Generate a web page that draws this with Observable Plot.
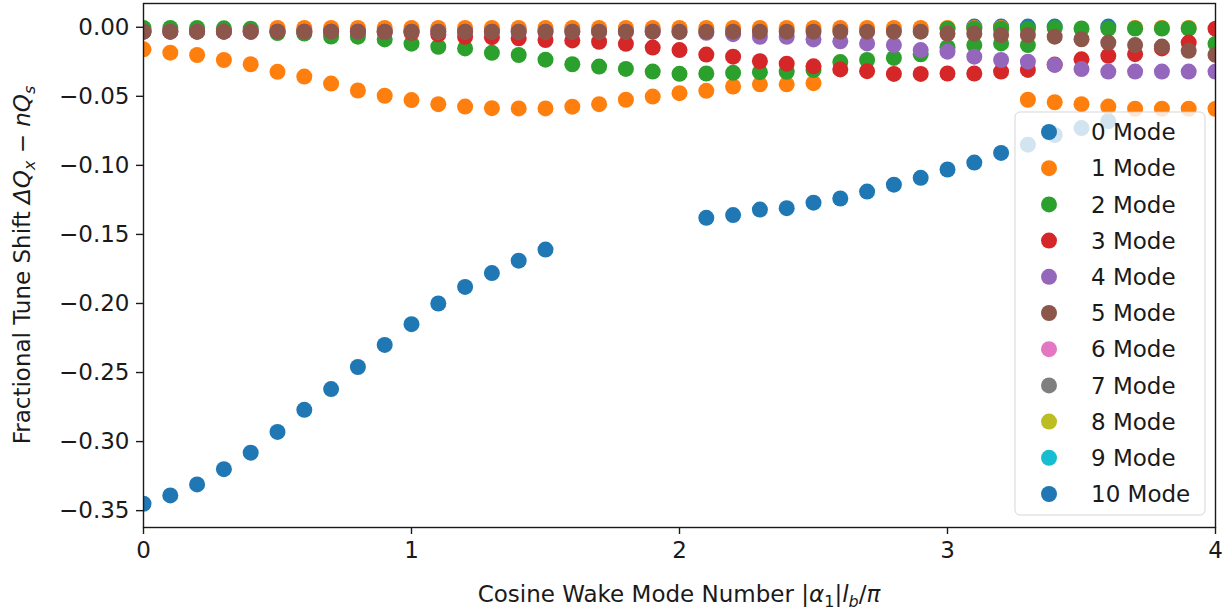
<!DOCTYPE html>
<html>
<head>
<meta charset="utf-8">
<script src="https://cdn.jsdelivr.net/npm/d3@7"></script>
<script src="https://cdn.jsdelivr.net/npm/@observablehq/plot@0.6"></script>
<style>
  html, body { margin: 0; padding: 0; background: #fff; }
  #chart svg { display: block; }
</style>
</head>
<body>
<div id="chart"></div>
<script>
// Cosine wake mode number |α1| l_b / π
const xs = [0.0,0.1,0.2,0.3,0.4,0.5,0.6,0.7,0.8,0.9,1.0,1.1,1.2,1.3,1.4,1.5,1.6,1.7,1.8,1.9,2.0,
            2.1,2.2,2.3,2.4,2.5,2.6,2.7,2.8,2.9,3.0,3.1,3.2,3.3,3.4,3.5,3.6,3.7,3.8,3.9,4.0];

// Fractional tune shift ΔQx − nQs per azimuthal mode; a mode may carry a second
// eigenvalue branch close to zero (null = no eigenvalue at that x)
const mode0 = [-0.345,-0.339,-0.331,-0.320,-0.308,-0.293,-0.277,-0.262,-0.246,-0.230,-0.215,-0.200,-0.188,-0.178,-0.169,-0.161,
               null,null,null,null,null,
               -0.138,-0.136,-0.132,-0.131,-0.127,-0.124,-0.119,-0.114,-0.109,-0.103,-0.098,-0.091,-0.085,-0.078,-0.073,-0.068,
               null,null,null,null];
const mode0Upper = [null,null,null,null,null,null,null,null,null,null,null,null,null,null,null,null,null,null,null,null,null,
                    null,null,null,null,null,null,null,null,null,null,0.0005,0.0005,0.0005,0.0005,null,0.0005,null,null,null,null];
const mode1 = [-0.016,-0.0184,-0.0201,-0.0237,-0.0268,-0.0323,-0.0357,-0.0408,-0.0458,-0.0496,-0.0527,-0.0557,-0.0574,-0.0586,-0.0588,-0.0588,
               -0.0575,-0.0557,-0.0525,-0.0502,-0.0477,-0.046,-0.0429,-0.0413,-0.0413,-0.0405,
               -0.0005,-0.0005,-0.0005,-0.0005,-0.0005,-0.0005,-0.0005,
               -0.0525,-0.0543,-0.0557,-0.0574,-0.059,-0.059,-0.059,-0.059];
const mode1Upper = [null,null,null,null,null,-0.0005,-0.0005,-0.0005,-0.0005,-0.0005,-0.0005,-0.0005,-0.0005,-0.0005,-0.0005,-0.0005,
                    -0.0005,-0.0005,-0.0005,-0.0005,-0.0005,-0.0005,-0.0005,-0.0005,-0.0005,-0.0005,
                    null,null,null,null,null,null,null,
                    null,null,null,null,-0.0005,-0.0005,-0.0005,null];
const mode2 = [-0.0005,-0.0005,-0.0005,-0.0008,-0.001,-0.0042,-0.0045,-0.0067,-0.0068,-0.0088,-0.0119,-0.0141,-0.0153,-0.0185,-0.0201,-0.0235,
               -0.0268,-0.0285,-0.0302,-0.0321,-0.0337,-0.0335,-0.033,-0.0325,-0.0322,-0.031,-0.0252,-0.0237,-0.0222,-0.0196,
               -0.0145,-0.0129,-0.0117,-0.0129,-0.0005,-0.0009,-0.0009,-0.0009,-0.0009,-0.0009,-0.012];
const mode2Upper = [null,null,null,null,null,null,null,null,null,null,null,null,null,null,null,null,null,null,null,null,null,
                    null,null,null,null,null,null,null,null,null,-0.001,-0.001,-0.001,-0.001,null,null,null,null,null,null,null];
const mode3 = [-0.0032,-0.0032,-0.0032,-0.0032,-0.0032,-0.0032,-0.0032,-0.0032,-0.0032,-0.0035,-0.004,-0.0052,-0.0069,-0.0072,-0.008,-0.0093,
               -0.0095,-0.0105,-0.012,-0.0147,-0.0165,-0.0198,-0.0213,-0.0246,-0.0264,-0.0283,-0.0305,-0.0318,-0.0338,-0.0338,
               -0.0335,-0.0335,-0.0321,-0.0309,-0.027,-0.0232,-0.0207,-0.0195,-0.0153,-0.0111,-0.001];
const mode4 = [-0.0032,-0.0032,-0.0032,-0.0032,-0.0032,-0.0032,-0.0032,-0.0032,-0.0032,-0.0032,-0.0032,-0.0032,-0.0032,-0.0032,-0.0032,-0.0032,
               -0.0032,-0.0032,-0.0032,-0.0032,-0.0035,-0.004,-0.005,-0.0069,-0.0069,-0.0088,-0.0102,-0.0117,-0.0129,-0.0165,
               -0.0177,-0.0213,-0.0237,-0.0249,-0.0273,-0.0303,-0.0321,-0.0321,-0.0321,-0.0321,-0.0321];
const mode5 = [-0.0032,-0.0032,-0.0032,-0.0032,-0.0032,-0.0032,-0.0032,-0.0032,-0.0032,-0.0032,-0.0032,-0.0032,-0.0032,-0.0032,-0.0032,-0.0032,
               -0.0032,-0.0032,-0.0032,-0.0032,-0.0032,-0.0032,-0.0032,-0.0032,-0.0032,-0.0032,-0.0032,-0.0032,-0.0032,-0.0032,
               -0.0045,-0.0045,-0.0056,-0.0056,-0.0068,-0.0087,-0.0111,-0.0129,-0.014,-0.0171,-0.020];
const emptyMode = [];

const modeNames = ["0 Mode","1 Mode","2 Mode","3 Mode","4 Mode","5 Mode","6 Mode","7 Mode","8 Mode","9 Mode","10 Mode"];
const modeColors = ["#1f77b4","#ff7f0e","#2ca02c","#d62728","#9467bd","#8c564b","#e377c2","#7f7f7f","#bcbd22","#17becf","#1f77b4"];
const modeSeries = [[mode0, mode0Upper],[mode1, mode1Upper],[mode2, mode2Upper],[mode3],[mode4],[mode5],
                    [emptyMode],[emptyMode],[emptyMode],[emptyMode],[emptyMode]];

const yTicks = [0.00,-0.05,-0.10,-0.15,-0.20,-0.25,-0.30,-0.35];
const xTicks = [0,1,2,3,4];

// Long table, drawn in mode order so later modes sit on top
const rows = [];
modeSeries.forEach((branches, m) => {
  branches.forEach(values => {
    values.forEach((v, i) => {
      if (v !== null && v !== undefined) rows.push({x: xs[i], y: v, mode: m});
    });
  });
});

const FONT = "DejaVu Sans, sans-serif";
const FS = 23;
const INK = "#1a1a1a";

const chart = Plot.plot({
  width: 1232,
  height: 613,
  marginLeft: 143,
  marginRight: 17,
  marginTop: 3,
  marginBottom: 86,
  style: {fontFamily: FONT, fontSize: FS + "px", color: INK, background: "#fff"},
  x: {domain: [0, 4], label: null},
  y: {domain: [-0.3622, 0.0172], label: null},
  marks: [
    Plot.dot(rows, {x: "x", y: "y", r: 8, fill: d => modeColors[d.mode], stroke: "none", clip: true}),
    Plot.frame({stroke: INK, strokeWidth: 1.4}),
    Plot.axisX({ticks: xTicks, tickFormat: d3.format("d"), tickSize: 7, tickPadding: 7, label: null, strokeWidth: 1.4}),
    Plot.axisY({ticks: yTicks, tickFormat: d3.format(".2f"), tickSize: 7, tickPadding: 7, label: null, strokeWidth: 1.4})
  ]
});
document.getElementById("chart").appendChild(chart);

const svg = d3.select(chart);

// Axis titles with math-style italics and subscripts
const ylab = svg.append("text")
  .attr("transform", "translate(30,265) rotate(-90)")
  .attr("text-anchor", "middle")
  .attr("font-family", FONT)
  .attr("font-size", FS)
  .attr("fill", INK);
ylab.append("tspan").text("Fractional Tune Shift ");
ylab.append("tspan").attr("font-style", "italic").text("ΔQ");
ylab.append("tspan").attr("font-style", "italic").attr("font-size", 16).attr("dy", 5).text("x");
ylab.append("tspan").attr("dy", -5).text(" − ");
ylab.append("tspan").attr("font-style", "italic").text("nQ");
ylab.append("tspan").attr("font-style", "italic").attr("font-size", 16).attr("dy", 5).text("s");

const xlab = svg.append("text")
  .attr("x", 679).attr("y", 602)
  .attr("text-anchor", "middle")
  .attr("font-family", FONT)
  .attr("font-size", FS)
  .attr("fill", INK);
xlab.append("tspan").text("Cosine Wake Mode Number |");
xlab.append("tspan").attr("font-style", "italic").text("α");
xlab.append("tspan").attr("font-size", 16).attr("dy", 5).text("1");
xlab.append("tspan").attr("dy", -5).text("|");
xlab.append("tspan").attr("font-style", "italic").text("l");
xlab.append("tspan").attr("font-style", "italic").attr("font-size", 16).attr("dy", 5).text("b");
xlab.append("tspan").attr("dy", -5).text("/");
xlab.append("tspan").attr("font-style", "italic").text("π");

// Legend box in the lower right of the axes
const legend = svg.append("g").attr("text-anchor", "start");
legend.append("rect")
  .attr("x", 1015).attr("y", 112).attr("width", 190).attr("height", 403).attr("rx", 5)
  .attr("fill", "#fff").attr("fill-opacity", 0.8)
  .attr("stroke", "#cccccc").attr("stroke-opacity", 0.8);
modeNames.forEach((name, i) => {
  const cy = 132 + i * 36.2;
  legend.append("circle").attr("cx", 1049).attr("cy", cy).attr("r", 8).attr("fill", modeColors[i]);
  legend.append("text")
    .attr("x", 1091).attr("y", cy).attr("dy", "0.36em")
    .attr("text-anchor", "start")
    .attr("font-family", FONT).attr("font-size", FS)
    .attr("fill", INK).text(name);
});
</script>
</body>
</html>
